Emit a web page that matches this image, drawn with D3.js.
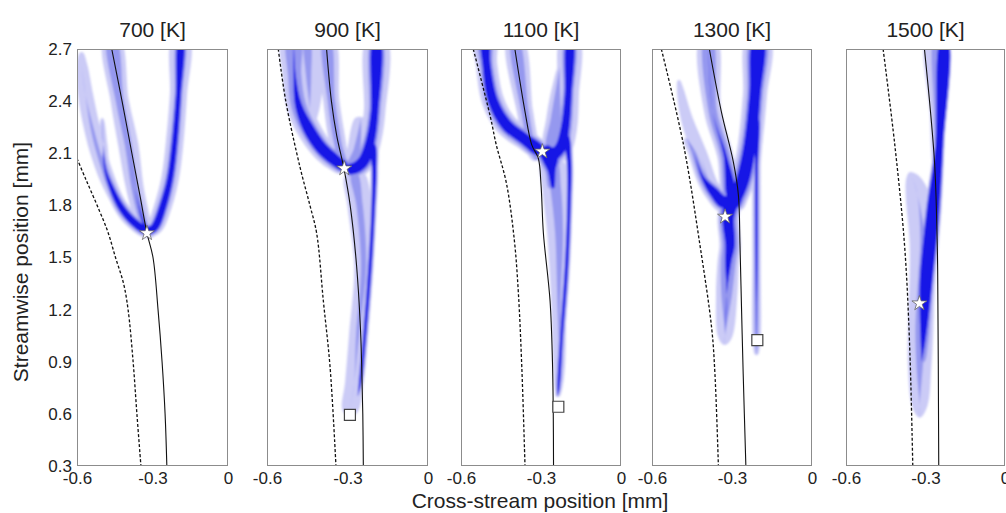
<!DOCTYPE html>
<html>
<head>
<meta charset="utf-8">
<script src="https://cdn.jsdelivr.net/npm/d3@7"></script>
<style>
  body { margin: 0; background: #fff; }
  svg { display: block; font-family: "Liberation Sans", Arial, sans-serif; }
</style>
</head>
<body>
<svg id="chart" width="1006" height="513"></svg>
<script>
// ---- data (mm) ----
const temperatures = [700, 900, 1100, 1300, 1500];
const xTicks = [-0.6, -0.3, 0];
const yTicks = [0.3, 0.6, 0.9, 1.2, 1.5, 1.8, 2.1, 2.4, 2.7];

// [x, y] points, top to bottom
const solidLines = [
  [[-0.462, 2.7], [-0.421, 2.4], [-0.382, 2.1], [-0.349, 1.85], [-0.322, 1.64], [-0.298, 1.5], [-0.278, 1.2], [-0.262, 0.9], [-0.25, 0.6], [-0.243, 0.3]],
  [[-0.378, 2.7], [-0.36, 2.4], [-0.34, 2.2], [-0.313, 2.01], [-0.29, 1.8], [-0.266, 1.45], [-0.252, 1.1], [-0.247, 0.87], [-0.243, 0.6], [-0.241, 0.3]],
  [[-0.398, 2.7], [-0.36, 2.34], [-0.335, 2.15], [-0.31, 2.07], [-0.3, 1.92], [-0.291, 1.64], [-0.266, 1.25], [-0.257, 0.9], [-0.254, 0.6], [-0.253, 0.3]],
  [[-0.385, 2.7], [-0.34, 2.34], [-0.295, 2.05], [-0.276, 1.86], [-0.27, 1.57], [-0.264, 1.19], [-0.258, 0.83], [-0.248, 0.3]],
  [[-0.304, 2.7], [-0.266, 2.05], [-0.256, 1.6], [-0.254, 1.42], [-0.25, 0.3]]
];
const dashedLines = [
  [[-0.6, 2.07], [-0.565, 1.95], [-0.52, 1.8], [-0.478, 1.65], [-0.447, 1.5], [-0.415, 1.35], [-0.397, 1.2], [-0.377, 0.9], [-0.362, 0.6], [-0.346, 0.3]],
  [[-0.558, 2.7], [-0.53, 2.4], [-0.477, 2.02], [-0.44, 1.8], [-0.415, 1.64], [-0.39, 1.25], [-0.365, 0.87], [-0.343, 0.3]],
  [[-0.554, 2.7], [-0.49, 2.31], [-0.468, 2.15], [-0.43, 1.93], [-0.4, 1.6], [-0.385, 1.3], [-0.372, 0.87], [-0.36, 0.3]],
  [[-0.565, 2.7], [-0.482, 2.15], [-0.42, 1.57], [-0.376, 1.09], [-0.364, 0.83], [-0.351, 0.3]],
  [[-0.46, 2.7], [-0.416, 2.15], [-0.379, 1.57], [-0.36, 1.0], [-0.348, 0.3]]
];
const stars = [[-0.322, 1.64], [-0.312, 2.013], [-0.295, 2.11], [-0.326, 1.735], [-0.323, 1.236]];
const squares = [null, [-0.291, 0.594], [-0.235, 0.641], [-0.205, 1.025], null];

// plume branches: [x, y, light, mid, dark] half-widths in mm
const plume700 = [
  [[-0.582, 2.68, 0.006, 0, 0], [-0.581, 2.608, 0.022, 0, 0], [-0.566, 2.435, 0.03, 0, 0], [-0.54, 2.243, 0.032, 0.006, 0], [-0.512, 2.09, 0.032, 0.008, 0], [-0.48, 1.956, 0.03, 0.01, 0], [-0.436, 1.821, 0.026, 0.012, 0], [-0.39, 1.72, 0.022, 0.01, 0]],
  [[-0.50, 2.3, 0.004, 0, 0], [-0.495, 2.15, 0.016, 0, 0], [-0.489, 2.013, 0.02, 0.012, 0.004], [-0.462, 1.898, 0.025, 0.016, 0.009], [-0.422, 1.783, 0.028, 0.02, 0.013], [-0.376, 1.706, 0.03, 0.021, 0.015], [-0.323, 1.655, 0.03, 0.021, 0.016], [-0.3, 1.665, 0.03, 0.02, 0.014]],
  [[-0.462, 2.75, 0.033, 0.018, 0], [-0.43, 2.4, 0.036, 0.016, 0], [-0.396, 2.147, 0.04, 0.014, 0], [-0.37, 1.9, 0.035, 0.014, 0], [-0.34, 1.72, 0.03, 0.014, 0.004], [-0.322, 1.65, 0.02, 0.01, 0.004]],
  [[-0.31, 1.655, 0.025, 0.018, 0.013], [-0.29, 1.677, 0.032, 0.021, 0.015], [-0.257, 1.802, 0.035, 0.021, 0.014], [-0.23, 1.956, 0.035, 0.019, 0.012], [-0.213, 2.147, 0.035, 0.018, 0.011], [-0.197, 2.435, 0.034, 0.016, 0.01], [-0.187, 2.75, 0.034, 0.015, 0.009]]
];
const plume900 = [
  [[-0.31, 2.02, 0.03, 0.022, 0.015], [-0.347, 2.061, 0.04, 0.03, 0.021], [-0.396, 2.128, 0.042, 0.03, 0.022], [-0.446, 2.243, 0.045, 0.03, 0.021], [-0.483, 2.378, 0.045, 0.028, 0.013], [-0.497, 2.55, 0.045, 0.025, 0.004], [-0.5, 2.75, 0.045, 0.025, 0]],
  [[-0.44, 2.22, 0.004, 0, 0], [-0.44, 2.35, 0.035, 0, 0], [-0.445, 2.55, 0.055, 0.01, 0], [-0.45, 2.75, 0.06, 0.01, 0]],
  [[-0.313, 2.013, 0.02, 0.012, 0], [-0.335, 2.15, 0.03, 0.014, 0], [-0.36, 2.4, 0.03, 0.014, 0], [-0.378, 2.75, 0.03, 0.014, 0]],
  [[-0.3, 2.005, 0.03, 0.022, 0.016], [-0.265, 2.02, 0.04, 0.03, 0.021], [-0.238, 2.06, 0.04, 0.03, 0.021], [-0.215, 2.17, 0.04, 0.025, 0.017], [-0.199, 2.34, 0.04, 0.022, 0.014], [-0.191, 2.75, 0.038, 0.02, 0.013]],
  [[-0.29, 2.03, 0.02, 0.01, 0], [-0.265, 2.12, 0.035, 0.012, 0], [-0.25, 2.3, 0.02, 0, 0]],
  [[-0.262, 0.7, 0.006, 0, 0], [-0.253, 0.775, 0.012, 0.007, 0.004], [-0.235, 1.063, 0.013, 0.009, 0.005], [-0.216, 1.447, 0.013, 0.009, 0.006], [-0.205, 1.75, 0.013, 0.009, 0.006], [-0.2, 2.0, 0.015, 0.01, 0.008], [-0.205, 2.15, 0.015, 0.01, 0.008]],
  [[-0.29, 0.585, 0.008, 0, 0], [-0.29, 0.62, 0.03, 0, 0], [-0.275, 0.78, 0.034, 0, 0], [-0.262, 1.06, 0.032, 0.006, 0], [-0.24, 1.45, 0.035, 0.01, 0], [-0.255, 1.8, 0.045, 0.012, 0], [-0.275, 1.98, 0.035, 0.012, 0]]
];
const plume1100 = [
  [[-0.3, 2.11, 0.03, 0.025, 0.018], [-0.366, 2.186, 0.04, 0.03, 0.021], [-0.429, 2.262, 0.042, 0.03, 0.021], [-0.479, 2.397, 0.042, 0.028, 0.019], [-0.504, 2.608, 0.04, 0.024, 0.015], [-0.51, 2.75, 0.04, 0.024, 0.013]],
  [[-0.31, 2.07, 0.02, 0.012, 0], [-0.335, 2.147, 0.028, 0.014, 0], [-0.36, 2.34, 0.03, 0.014, 0], [-0.398, 2.75, 0.03, 0.014, 0]],
  [[-0.28, 2.06, 0.04, 0.035, 0.028], [-0.25, 2.1, 0.045, 0.035, 0.025], [-0.229, 2.128, 0.045, 0.03, 0.021], [-0.21, 2.243, 0.045, 0.025, 0.016], [-0.198, 2.435, 0.04, 0.02, 0.013], [-0.191, 2.75, 0.035, 0.018, 0.011]],
  [[-0.26, 2.12, 0.03, 0.02, 0], [-0.245, 2.3, 0.035, 0.018, 0], [-0.235, 2.5, 0.02, 0.006, 0], [-0.23, 2.6, 0.004, 0, 0]],
  [[-0.29, 2.13, 0.03, 0.025, 0.02], [-0.265, 2.07, 0.045, 0.04, 0.03], [-0.26, 2.0, 0.035, 0.025, 0.015], [-0.255, 1.9, 0.03, 0.015, 0.004]],
  [[-0.238, 0.7, 0.006, 0, 0], [-0.235, 0.74, 0.012, 0.007, 0.004], [-0.222, 1.063, 0.013, 0.009, 0.005], [-0.204, 1.447, 0.013, 0.009, 0.006], [-0.195, 1.8, 0.013, 0.009, 0.006], [-0.194, 2.05, 0.015, 0.01, 0.008], [-0.205, 2.2, 0.015, 0.01, 0.008]],
  [[-0.237, 0.7, 0.006, 0, 0], [-0.235, 0.74, 0.014, 0, 0], [-0.232, 0.87, 0.022, 0, 0], [-0.233, 1.255, 0.029, 0.006, 0], [-0.232, 1.64, 0.045, 0.015, 0], [-0.245, 1.9, 0.05, 0.02, 0], [-0.26, 2.05, 0.04, 0.02, 0]]
];
const plume1300 = [
  [[-0.3, 1.84, 0.03, 0.022, 0.014], [-0.326, 2.09, 0.03, 0.018, 0.006], [-0.372, 2.339, 0.032, 0.016, 0], [-0.389, 2.75, 0.032, 0.016, 0]],
  [[-0.3, 1.84, 0.035, 0.028, 0.02], [-0.333, 1.821, 0.04, 0.03, 0.023], [-0.37, 1.879, 0.035, 0.025, 0.017], [-0.408, 1.956, 0.025, 0.015, 0.006], [-0.445, 2.108, 0.02, 0.008, 0], [-0.47, 2.186, 0.012, 0, 0]],
  [[-0.36, 1.86, 0.03, 0.01, 0], [-0.382, 1.917, 0.03, 0, 0], [-0.42, 2.09, 0.028, 0, 0], [-0.47, 2.3, 0.022, 0, 0], [-0.495, 2.474, 0.012, 0, 0], [-0.5, 2.52, 0.004, 0, 0]],
  [[-0.3, 1.8, 0.04, 0.03, 0.022], [-0.282, 1.86, 0.045, 0.035, 0.025], [-0.258, 1.956, 0.045, 0.035, 0.025], [-0.233, 2.147, 0.045, 0.032, 0.023], [-0.214, 2.435, 0.045, 0.03, 0.021], [-0.201, 2.75, 0.045, 0.03, 0.02]],
  [[-0.328, 1.0, 0.008, 0, 0], [-0.326, 1.05, 0.028, 0, 0], [-0.32, 1.284, 0.04, 0.02, 0], [-0.314, 1.476, 0.04, 0.028, 0.012], [-0.307, 1.572, 0.04, 0.03, 0.018], [-0.314, 1.725, 0.04, 0.032, 0.022], [-0.3, 1.84, 0.035, 0.03, 0.022]],
  [[-0.208, 0.94, 0.005, 0, 0], [-0.208, 1.0, 0.014, 0.005, 0], [-0.208, 1.5, 0.016, 0.008, 0.004], [-0.208, 2.0, 0.016, 0.008, 0.005], [-0.205, 2.3, 0.014, 0.006, 0.004]]
];
const plume1500 = [
  [[-0.315, 0.9, 0.02, 0.01, 0], [-0.31, 1.0, 0.03, 0.02, 0.008], [-0.304, 1.188, 0.035, 0.025, 0.018], [-0.297, 1.38, 0.035, 0.028, 0.024], [-0.272, 1.764, 0.032, 0.028, 0.024], [-0.248, 2.147, 0.02, 0.016, 0.015], [-0.229, 2.75, 0.016, 0.014, 0.013]],
  [[-0.322, 0.58, 0.005, 0, 0], [-0.322, 0.65, 0.03, 0, 0], [-0.322, 0.87, 0.044, 0.012, 0], [-0.318, 1.1, 0.048, 0.02, 0], [-0.313, 1.38, 0.047, 0.015, 0], [-0.31, 1.6, 0.05, 0.01, 0], [-0.33, 1.86, 0.045, 0, 0], [-0.35, 1.96, 0.025, 0, 0], [-0.36, 1.99, 0.004, 0, 0]],
  [[-0.264, 2.0, 0.003, 0, 0], [-0.263, 2.05, 0.012, 0, 0], [-0.262, 2.34, 0.022, 0.006, 0], [-0.262, 2.75, 0.035, 0.008, 0]]
];
const plumes = [plume700, plume900, plume1100, plume1300, plume1500];

// ---- layout ----
const svg = d3.select("#chart");
const plotTop = 49, plotBottom = 466;
const panelLeft = [77, 267, 461, 652, 846];
const panelWidth = [151, 161, 160, 160, 159];
const levelColors = [[2, "#cbcbf6"], [3, "#9598ef"], [4, "#1515e6"]];

const defs = svg.append("defs");
defs.append("filter").attr("id", "soft")
  .append("feGaussianBlur").attr("stdDeviation", 0.9);

// closed outline of a branch, offset along the normals
function ribbon(branch, k, x, y, s) {
  const p = branch.map(d => [x(d[0]), y(d[1]), d[k] * s]);
  const left = [], right = [];
  p.forEach((d, j) => {
    const a = p[Math.max(j - 1, 0)], b = p[Math.min(j + 1, p.length - 1)];
    const dx = b[0] - a[0], dy = b[1] - a[1], len = Math.hypot(dx, dy) || 1;
    const nx = -dy / len, ny = dx / len;
    left.push([d[0] + nx * d[2], d[1] + ny * d[2]]);
    right.push([d[0] - nx * d[2], d[1] - ny * d[2]]);
  });
  return d3.line().curve(d3.curveCatmullRomClosed)(left.concat(right.reverse()));
}

temperatures.forEach((T, i) => {
  const x = d3.scaleLinear().domain([-0.6, 0]).range([panelLeft[i], panelLeft[i] + panelWidth[i]]);
  const y = d3.scaleLinear().domain([0.3, 2.7]).range([plotBottom, plotTop]);
  const s = (x(0) - x(-0.6)) / 0.6;

  defs.append("clipPath").attr("id", "clip" + i)
    .append("rect").attr("x", x(-0.6)).attr("y", plotTop)
    .attr("width", x(0) - x(-0.6)).attr("height", plotBottom - plotTop);

  const g = svg.append("g");
  const plot = g.append("g").attr("clip-path", `url(#clip${i})`);

  const blue = plot.append("g").attr("filter", "url(#soft)");
  levelColors.forEach(([k, color]) => {
    plumes[i].forEach(branch => {
      if (!branch.some(d => d[k] > 0)) return;
      blue.append("path").attr("d", ribbon(branch, k, x, y, s)).attr("fill", color);
    });
  });

  const line = d3.line().x(d => x(d[0])).y(d => y(d[1])).curve(d3.curveCatmullRom);
  plot.append("path").attr("d", line(dashedLines[i]))
    .attr("fill", "none").attr("stroke", "#111").attr("stroke-width", 1.3)
    .attr("stroke-dasharray", "3,2");
  plot.append("path").attr("d", line(solidLines[i]))
    .attr("fill", "none").attr("stroke", "#111").attr("stroke-width", 1.1);

  g.append("path")
    .attr("d", d3.symbol(d3.symbolStar).size(70)())
    .attr("transform", `translate(${x(stars[i][0])},${y(stars[i][1])})`)
    .attr("fill", "#fff").attr("stroke", "#666").attr("stroke-width", 0.8);
  if (squares[i]) {
    g.append("path")
      .attr("d", d3.symbol(d3.symbolSquare).size(121)())
      .attr("transform", `translate(${x(squares[i][0])},${y(squares[i][1])})`)
      .attr("fill", "#fff").attr("stroke", "#444").attr("stroke-width", 1.2);
  }

  g.append("rect")
    .attr("x", Math.round(x(-0.6)) + 0.5).attr("y", plotTop + 0.5)
    .attr("width", Math.round(x(0) - x(-0.6)) - 1).attr("height", plotBottom - plotTop - 1)
    .attr("fill", "none").attr("stroke", "#8c8c8c");

  const xa = g.append("g").attr("transform", `translate(0,${plotBottom})`)
    .call(d3.axisBottom(x).tickValues(xTicks).tickSize(0).tickPadding(6)
      .tickFormat(d => d === 0 ? "0" : d.toFixed(1)));
  xa.select(".domain").remove();
  xa.selectAll("text").attr("font-size", 17).attr("fill", "#222")
    .attr("font-family", "Liberation Sans, Arial, sans-serif");

  if (i === 0) {
    const ya = g.append("g").attr("transform", `translate(${x(-0.6)},0)`)
      .call(d3.axisLeft(y).tickValues(yTicks).tickSize(0).tickPadding(5)
        .tickFormat(d3.format(".1f")));
    ya.select(".domain").remove();
    ya.selectAll("text").attr("font-size", 17).attr("fill", "#222")
      .attr("font-family", "Liberation Sans, Arial, sans-serif");
  }

  g.append("text")
    .attr("x", (x(-0.6) + x(0)) / 2).attr("y", 37)
    .attr("text-anchor", "middle").attr("font-size", 21).attr("fill", "#222")
    .text(`${T} [K]`);
});

svg.append("text")
  .attr("x", 540).attr("y", 508)
  .attr("text-anchor", "middle").attr("font-size", 21).attr("fill", "#222")
  .text("Cross-stream position [mm]");

svg.append("text")
  .attr("transform", "translate(28,262) rotate(-90)")
  .attr("text-anchor", "middle").attr("font-size", 21).attr("fill", "#222")
  .text("Streamwise position [mm]");
</script>
</body>
</html>
